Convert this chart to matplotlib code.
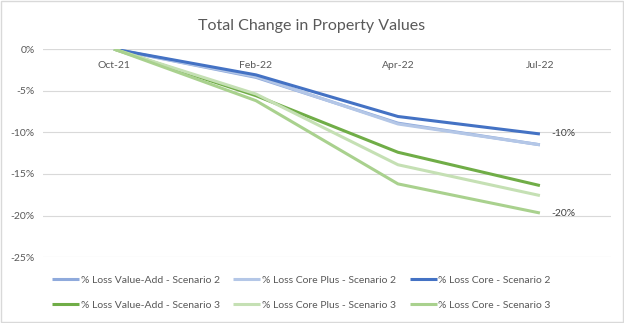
import matplotlib.pyplot as plt
from matplotlib.patches import Rectangle

plt.rcParams['font.family'] = ['Lato', 'DejaVu Sans']

dates = ['Oct-21', 'Feb-22', 'Apr-22', 'Jul-22']
value_add_s2 = [0, -3.4, -8.9, -11.5]
core_plus_s2 = [0, -3.3, -9.0, -11.5]
core_s2 = [0, -3.1, -8.1, -10.2]
value_add_s3 = [0, -5.6, -12.4, -16.4]
core_plus_s3 = [0, -5.4, -13.9, -17.6]
core_s3 = [0, -6.2, -16.2, -19.7]

series = [
    ('% Loss Value-Add - Scenario 2', value_add_s2, '#8FAADC'),
    ('% Loss Core Plus - Scenario 2', core_plus_s2, '#B4C7E7'),
    ('% Loss Core - Scenario 2', core_s2, '#4472C4'),
    ('% Loss Value-Add - Scenario 3', value_add_s3, '#70AD47'),
    ('% Loss Core Plus - Scenario 3', core_plus_s3, '#C5E0B4'),
    ('% Loss Core - Scenario 3', core_s3, '#A9D18E'),
]

fig = plt.figure(figsize=(6.24, 3.23), dpi=100)
fig.patches.append(Rectangle((0.0015, 0.003), 0.997, 0.994, transform=fig.transFigure,
                             fill=False, edgecolor='#D9D9D9', linewidth=1))
ax = fig.add_axes([0.069, 0.204, 0.910, 0.644])

x = list(range(len(dates)))
lines = []
for name, vals, col in series:
    ln, = ax.plot(x, vals, color=col, linewidth=2.2, label=name, solid_capstyle='butt')
    lines.append(ln)

# data labels on the last point of the core series
for vals in (core_s2, core_s3):
    ax.annotate('%d%%' % round(vals[-1]), (x[-1], vals[-1]), xytext=(8, 0),
                textcoords='offset points', va='center', ha='left',
                fontsize=7.5, color='#404040')

ax.set_xlim(-0.5, 3.5)
ax.set_ylim(-25, 0)
ax.set_yticks([0, -5, -10, -15, -20, -25])
ax.set_yticklabels(['%d%%' % v for v in [0, -5, -10, -15, -20, -25]])
ax.yaxis.grid(True, color='#D9D9D9', linewidth=0.8)
ax.set_axisbelow(True)
ax.set_xticks(x)
ax.set_xticklabels(dates)
ax.xaxis.tick_top()
ax.tick_params(axis='x', length=0, pad=-15, labelsize=7.5, labelcolor='#595959')
ax.tick_params(axis='y', length=0, pad=6, labelsize=7.5, labelcolor='#595959')
for s in ax.spines.values():
    s.set_visible(False)
ax.axhline(0, color='#D9D9D9', linewidth=0.8, zorder=0)

fig.suptitle('Total Change in Property Values', y=0.94, fontsize=11.5, color='#595959')

# legend filled row by row
order = [0, 3, 1, 4, 2, 5]
ax.legend([lines[i] for i in order], [series[i][0] for i in order],
          loc='upper center', bbox_to_anchor=(0.455, -0.045), ncol=3, frameon=False,
          fontsize=7.5, labelcolor='#595959', handlelength=2.6, handletextpad=0.15,
          columnspacing=1.3, labelspacing=1.45)

fig.savefig('out.png', dpi=100)
